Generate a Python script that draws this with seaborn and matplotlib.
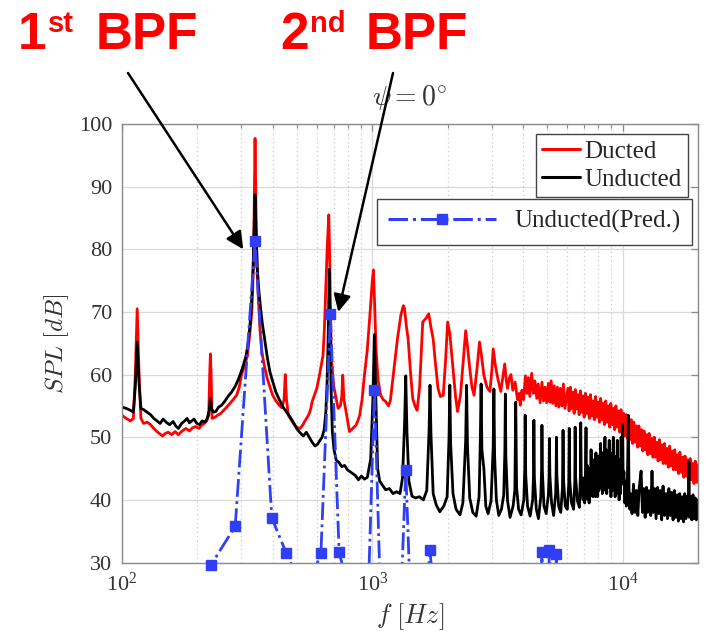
import numpy as np
import pandas as pd
import matplotlib
matplotlib.use("Agg")
import matplotlib.pyplot as plt
import seaborn as sns
from matplotlib.lines import Line2D
from matplotlib.ticker import LogLocator, NullFormatter

# ---------------- data ----------------
ducted_f = [
    100, 104, 108, 111, 113, 115, 117, 119, 122, 126,
    130, 134, 138, 142, 145, 149, 153, 158, 163, 168,
    174, 180, 186, 191, 197, 203, 208, 213, 218, 222,
    224, 225.5, 227, 229, 235, 241, 248, 255, 262, 270,
    278, 287, 294, 300, 308, 317, 324, 330, 334, 337,
    340, 343, 346, 350, 356, 362, 370, 380, 390, 400,
    412, 425, 435, 444, 449, 454, 462, 475, 490, 503,
    515, 528, 540, 550, 560, 568, 575, 588, 600, 608,
    615, 625, 635, 643, 650, 660, 670, 676, 685, 700,
    715, 730, 745, 755, 762, 770, 790, 810, 835, 860,
    875, 890, 910, 930, 955, 980, 1000, 1010, 1020, 1035,
    1055, 1080, 1105, 1130, 1160, 1180, 1200, 1230, 1260, 1300,
    1330, 1345, 1370, 1390, 1420, 1450, 1480, 1510, 1545, 1590,
    1640, 1680, 1715, 1750, 1790, 1830, 1870, 1920, 1960, 2000,
    2040, 2100, 2150, 2190, 2250, 2310, 2360, 2400, 2450, 2500,
    2550, 2620, 2680, 2730, 2790, 2870, 2950, 3000, 3040, 3100,
    3170, 3260, 3320, 3380, 3430, 3470, 3530, 3580, 3640, 3720,
    3800, 3860, 3900, 3960, 4020, 4090, 4150, 4200, 4260, 4330,
    4400, 4460, 4540, 4600, 4680, 4760, 4830, 4900, 4970, 5050,
    5120, 5180, 5260, 5330, 5410, 5490, 5560, 5640, 5720, 5800,
    5880,
    6040, 6110, 6180, 6250, 6320, 6400, 6470, 6550, 6620, 6700,
    6780, 6860, 6940, 7020, 7100, 7190, 7270, 7360, 7440, 7530,
    7620, 7710, 7800, 7890, 7980, 8080, 8170, 8270, 8360, 8460,
    8560, 8660, 8760, 8870, 8970, 9080, 9180, 9290, 9400, 9510,
    9620, 9740, 9850, 9970, 10090, 10200, 10330, 10450, 10570, 10700,
    10820, 10950, 11080, 11210, 11340, 11480, 11610, 11750, 11890, 12030,
    12170, 12320, 12460, 12610, 12760, 12910, 13060, 13220, 13370, 13530,
    13690, 13860, 14020, 14190, 14350, 14520, 14700, 14870, 15050, 15230,
    15410, 15590, 15770, 15960, 16150, 16340, 16540, 16730, 16930, 17130,
    17340, 17540, 17750, 17960, 18170, 18390, 18610, 18830, 19050, 19270,
    19500, 19730, 19960]
ducted_spl = [
    53.5, 53.0, 52.6, 53.0, 60.0, 70.5, 60.0, 53.0, 52.2, 52.4,
    52.0, 51.4, 50.9, 50.5, 50.2, 50.6, 50.8, 50.4, 50.9, 50.4,
    51.0, 51.4, 51.0, 51.5, 51.7, 51.4, 51.9, 52.2, 52.6, 53.5,
    60.0, 63.3, 60.0, 53.0, 53.2, 53.5, 53.8, 54.3, 54.8, 55.4,
    56.0, 56.7, 58.0, 59.9, 61.3, 63.0, 66.5, 70.0, 76.0, 85.0,
    97.7, 86.0, 78.0, 72.6, 67.0, 63.6, 61.5, 59.4, 58.0, 56.7,
    55.8, 55.1, 54.7, 56.0, 60.0, 56.0, 53.5, 52.7, 51.9, 51.5,
    51.4, 52.0, 52.7, 53.2, 53.8, 54.6, 55.7, 56.8, 57.8, 58.9,
    59.9, 61.5, 63.0, 67.0, 72.6, 80.0, 85.5, 78.0, 63.0, 58.3,
    56.4, 54.6, 55.0, 56.5, 59.9, 56.0, 53.5, 50.9, 51.4, 51.9,
    52.6, 53.5, 56.0, 59.9, 64.0, 70.0, 75.0, 76.7, 72.0, 64.1,
    59.0, 56.7, 56.0, 55.7, 55.0, 55.8, 58.3, 62.0, 65.7, 69.5,
    71.0, 70.5, 67.5, 65.7, 60.5, 56.2, 55.0, 54.3, 58.0, 68.4,
    69.0, 69.7, 67.5, 65.7, 61.5, 57.8, 56.5, 56.7, 62.0, 68.4,
    66.5, 61.0, 56.5, 54.1, 56.7, 62.5, 67.0, 64.5, 61.0, 58.0,
    56.7, 61.0, 65.2, 63.0, 59.9, 58.0, 57.3, 60.5, 64.1, 61.5,
    59.4, 57.3, 59.5, 61.7, 59.0, 57.8, 59.5, 60.0, 57.5, 58.8,
    56.0, 57.0, 55.1, 57.5, 56.0, 59.8, 57.0, 59.5, 56.5, 60.2,
    57.0, 59.0, 56.2, 58.5, 55.5, 58.8, 55.8, 58.0, 55.5, 58.6,
    55.6, 59.0, 55.4, 58.2, 55.0, 58.0, 54.8, 57.8, 55.0, 58.5,
    54.6,
    57.8, 54.2, 58.0, 54.6, 57.2, 53.8, 57.6, 54.5, 56.8, 53.6,
    57.4, 54.0, 56.6, 53.2, 57.0, 53.8, 56.4, 53.0, 56.8, 53.4,
    55.8, 52.8, 56.5, 53.2, 55.6, 52.4, 56.2, 52.8, 55.4, 52.0,
    55.8, 52.4, 55.0, 51.6, 55.4, 52.0, 54.6, 51.2, 55.0, 51.6,
    54.2, 50.8, 54.4, 50.6, 53.8, 50.2, 53.6, 49.8, 53.0, 49.6,
    52.8, 49.0, 52.4, 49.2, 51.8, 48.4, 51.8, 48.6, 51.2, 47.8,
    51.0, 48.0, 50.4, 47.2, 50.6, 47.4, 49.8, 46.8, 50.0, 46.8,
    49.2, 46.2, 49.6, 46.4, 48.8, 45.8, 49.0, 45.8, 48.2, 45.2,
    48.6, 45.4, 47.8, 44.8, 48.0, 44.8, 47.2, 44.2, 47.6, 44.4,
    46.8, 43.6, 47.0, 43.8, 46.4, 43.2, 46.6, 43.2, 45.8, 42.6,
    46.2, 42.8, 45.6]

unducted_f = [
    100, 104, 108, 111, 113, 115, 117, 119, 122, 126,
    130, 134, 138, 142, 146, 150, 155, 160, 164, 168,
    173, 178, 182, 186, 190, 194, 199, 204, 209, 214,
    219, 223, 225.5, 228, 232, 237, 243, 250, 257, 265,
    274, 284, 292, 299, 306, 313, 319, 324, 329, 334,
    337, 340, 343, 347, 352, 358, 364, 371, 380, 390,
    400, 411, 425, 440, 455, 470, 485, 500, 515, 530,
    545, 560, 575, 590, 605, 618, 630, 642, 652, 660,
    667, 673, 678, 684, 692, 703, 718, 735, 755, 775,
    795, 815, 835, 855, 880, 905, 930, 955, 985, 1005,
    1020, 1035, 1050, 1070, 1100, 1130, 1170, 1210, 1250, 1290,
    1320, 1345, 1360, 1375, 1400, 1440, 1490, 1540, 1600, 1650,
    1685, 1700, 1715, 1750, 1800, 1860, 1930, 1990, 2025, 2040,
    2055, 2100, 2160, 2240, 2300, 2360, 2380, 2400, 2450, 2520,
    2600, 2670, 2700, 2720, 2740, 2790, 2840, 2900, 2980, 3040,
    3060, 3080, 3130, 3200, 3280, 3350, 3385, 3400, 3415, 3470,
    3550, 3650, 3710, 3740, 3770, 3840, 3930, 4030, 4065, 4080,
    4100, 4170, 4270, 4370, 4405, 4420, 4440, 4520, 4610, 4710,
    4745, 4760, 4780, 4850, 4950, 5050, 5085, 5100, 5120, 5200,
    5300, 5400, 5425, 5440, 5460, 5550, 5660, 5750, 5780, 5810,
    5900, 6010, 6090, 6120, 6150, 6250, 6370, 6440, 6460, 6490,
    6600, 6720, 6780, 6800, 6830, 6950, 7000, 7050, 7100, 7140,
    7170, 7220, 7260, 7300, 7350, 7400, 7440, 7480, 7510, 7560,
    7600, 7650, 7700, 7740, 7780, 7820, 7850, 7900, 7950, 8000,
    8040, 8080, 8120, 8160, 8200, 8250, 8300, 8350, 8400, 8450,
    8500, 8540, 8590, 8640, 8700, 8760, 8800, 8840, 8880, 8930,
    8980, 9040, 9100, 9140, 9180, 9220, 9280, 9330, 9390, 9450,
    9490, 9520, 9560, 9620, 9680, 9740, 9800, 9840, 9860, 9900,
    9950, 10000, 10050, 10120, 10200, 10280, 10350, 10450, 10540, 10600,
    10680, 10750, 10900, 11050, 11200, 11350, 11500, 11650, 11850, 12000,
    12150, 12300, 12450, 12600, 12780, 12950, 13100, 13250, 13420, 13600,
    13780, 13950, 14130, 14320, 14500, 14700, 14900, 15100, 15300, 15500,
    15700, 15900, 16100, 16300, 16500, 16700, 16900, 17100, 17300, 17500,
    17700, 17900, 18100, 18300, 18400, 18500, 18700, 18900, 19100, 19300,
    19500, 19700, 19900, 20000]
unducted_spl = [
    54.8, 54.6, 54.3, 54.0, 58.0, 65.2, 58.5, 54.6, 54.4, 54.0,
    53.6, 53.0, 52.6, 52.2, 52.9, 52.4, 52.0, 52.5, 51.8, 51.4,
    52.2, 52.6, 53.0, 52.3, 52.6, 52.9, 52.2, 52.0, 52.6, 52.4,
    53.0, 54.2, 56.2, 54.5, 54.0, 54.1, 54.8, 55.1, 55.7, 56.5,
    57.2, 58.2, 59.3, 60.4, 61.6, 63.0, 65.0, 67.5, 71.0, 77.0,
    83.0, 88.7, 83.0, 77.0, 73.5, 70.5, 68.0, 65.8, 62.9, 60.4,
    58.9, 57.3, 56.0, 54.8, 54.0, 53.2, 52.3, 51.3, 50.7, 50.2,
    50.8, 50.0, 49.2, 48.6, 48.9, 49.5, 50.0, 51.2, 54.0, 59.0,
    67.0, 76.8, 68.0, 58.0, 51.0, 48.0, 46.3, 46.0, 45.3, 45.5,
    44.8, 44.5, 44.2, 43.9, 43.2, 43.8, 43.3, 43.6, 46.5, 56.0,
    66.4, 55.0, 45.0, 43.0, 42.3, 41.6, 41.8, 41.0, 41.3, 41.0,
    43.5, 52.0, 59.8, 51.0, 43.0, 40.6, 40.3, 40.5, 40.0, 41.5,
    51.0, 58.3, 50.5, 41.0, 39.2, 38.1, 39.0, 40.5, 50.0, 58.3,
    49.0, 41.0, 38.5, 37.6, 39.5, 49.5, 58.3, 48.5, 40.3, 38.0,
    37.4, 40.5, 49.5, 58.5, 48.0, 45.0, 39.0, 37.8, 39.8, 48.5,
    57.7, 47.0, 40.0, 37.5, 38.5, 40.8, 48.0, 56.9, 47.0, 39.8,
    37.2, 39.0, 41.5, 55.6, 42.0, 38.5, 37.6, 40.0, 45.0, 53.5,
    44.0, 39.0, 37.4, 40.0, 44.0, 52.7, 43.5, 38.5, 37.0, 40.5,
    45.0, 51.9, 44.5, 39.0, 37.8, 40.8, 44.0, 49.8, 44.0, 39.5,
    37.5, 41.0, 44.5, 50.0, 44.0, 39.0, 38.0, 42.0, 51.1, 43.0,
    39.0, 38.5, 42.5, 51.4, 43.0, 39.5, 38.5, 43.0, 51.6, 43.5,
    39.8, 38.8, 44.0, 52.3, 44.0, 40.0, 43.5, 39.5, 44.0, 51.5,
    43.0, 45.5, 40.0, 44.5, 39.5, 45.0, 41.0, 48.0, 43.0, 46.0,
    40.5, 45.5, 41.0, 46.5, 40.5, 47.5, 43.5, 46.5, 40.5, 47.0,
    41.5, 46.5, 42.0, 49.0, 44.5, 47.5, 41.0, 47.5, 41.5, 47.0,
    50.0, 45.0, 48.0, 41.0, 47.5, 42.0, 47.0, 49.5, 44.5, 47.5,
    40.5, 47.0, 41.5, 47.0, 50.0, 44.5, 47.0, 40.5, 46.5, 41.0,
    46.0, 49.5, 44.0, 46.5, 40.0, 45.5, 41.0, 46.0, 50.0, 43.5,
    45.0, 52.0, 42.5, 44.5, 39.5, 43.0, 39.0, 43.5, 53.5, 42.0,
    38.5, 41.0, 37.8, 42.5, 38.0, 41.5, 37.5, 42.0, 44.6, 38.0,
    41.8, 37.2, 42.0, 38.0, 41.5, 37.5, 44.6, 38.0, 41.8, 37.0,
    42.0, 37.8, 41.5, 36.8, 42.2, 37.5, 41.0, 37.0, 41.8, 37.5,
    41.2, 36.8, 41.5, 37.2, 40.8, 36.6, 41.0, 37.0, 40.5, 36.5,
    41.0, 37.0, 40.6, 37.5, 46.1, 37.2, 40.5, 36.8, 40.8, 37.0,
    40.3, 36.8, 40.0, 38.5]

pred_f = [170, 226.7, 283.3, 340, 396.7, 453.3, 510, 566.7, 623.3, 680,
          736.7, 793.3, 963.3, 1020, 1076.7, 1303.3, 1360, 1416.7, 1643.3, 1700,
          1756.7, 4703.3, 4760, 4816.7, 5043.3, 5100, 5156.7, 5383.3, 5440, 5496.7]
pred_spl = [25, 29.6, 35.8, 81.3, 37.1, 31.5, 27, 27, 31.5, 69.6,
            31.7, 26.5, 25, 57.5, 25, 25, 44.8, 25, 25, 32.0,
            25, 25, 31.6, 25, 25, 32.0, 25, 25, 31.3, 25]

y_ticks = [30, 40, 50, 60, 70, 80, 90, 100]
series_names = ["Ducted", "Unducted", "Unducted(Pred.)"]

RED, BLACK, BLUE = "#ff0000", "#000000", "#2f3ff5"

# ---------------- style ----------------
sns.set_style("white")
plt.rcParams["font.family"] = ["Liberation Serif", "DejaVu Serif"]
plt.rcParams["mathtext.fontset"] = "stix"

W, H = 706, 641
fig = plt.figure(figsize=(W / 100, H / 100), dpi=100)
AX_L, AX_R, AX_T, AX_B = 122, 698, 124, 562.5
ax = fig.add_axes([AX_L / W, 1 - AX_B / H, (AX_R - AX_L) / W, (AX_B - AX_T) / H])

df_d = pd.DataFrame({"f": ducted_f, "SPL": ducted_spl})
df_u = pd.DataFrame({"f": unducted_f, "SPL": unducted_spl})
df_p = pd.DataFrame({"f": pred_f, "SPL": pred_spl})

sns.lineplot(data=df_d, x="f", y="SPL", ax=ax, color=RED, lw=2.0, sort=False, estimator=None, legend=False)
sns.lineplot(data=df_u, x="f", y="SPL", ax=ax, color=BLACK, lw=2.0, sort=False, estimator=None, legend=False)
sns.lineplot(data=df_p, x="f", y="SPL", ax=ax, color=BLUE, lw=2.0, ls="-.", sort=False, estimator=None,
             legend=False)
vis = df_p[df_p["SPL"] >= 29]
ax.plot(vis["f"], vis["SPL"], ls="none", marker="s", ms=7.5, color=BLUE, clip_on=False, zorder=5)

ax.set_xscale("log")
ax.set_xlim(100, 20000)
ax.set_ylim(30, 100)
ax.set_yticks(y_ticks)
ax.xaxis.set_major_locator(LogLocator(base=10, numticks=10))
ax.xaxis.set_minor_locator(LogLocator(base=10, subs=np.arange(2, 10), numticks=50))
ax.xaxis.set_minor_formatter(NullFormatter())

ax.grid(True, which="major", axis="both", color="#dadada", lw=0.9, ls="-")
ax.grid(True, which="minor", axis="x", color="#c8c8c8", lw=0.9, ls=(0, (1, 2.5)))
ax.set_axisbelow(True)
ax.tick_params(which="both", direction="in", top=True, right=True, colors="#8a8a8a",
               labelcolor="#333333", labelsize=16, pad=7)
ax.tick_params(which="major", length=5, width=0.9)
ax.tick_params(which="minor", length=3, width=0.8)
for s in ax.spines.values():
    s.set_color("#8a8a8a")
    s.set_linewidth(1.0)

ax.set_xlabel(r"$f\ [Hz]$", fontsize=19, math_fontfamily="cm", color="#333333")
ax.set_ylabel(r"$SPL\ [dB]$", fontsize=18, math_fontfamily="cm", color="#333333")
ax.xaxis.set_label_coords(0.5, -(601 - AX_B) / (AX_B - AX_T))
ax.yaxis.set_label_coords((71 - AX_L) / (AX_R - AX_L), 0.5)
ax.text(0.5, 1 + (AX_T - 97) / (AX_B - AX_T), r"$\psi = 0^{\circ}$", transform=ax.transAxes,
        ha="center", va="center", fontsize=20, math_fontfamily="cm", color="#333333")

# legends
h1 = [Line2D([], [], color=RED, lw=2.2), Line2D([], [], color=BLACK, lw=2.2)]
leg1 = ax.legend(h1, series_names[:2], loc="upper right", bbox_to_anchor=(0.983, 0.977), borderaxespad=0,
                 fancybox=False, edgecolor="#444444", framealpha=1, fontsize=18, handlelength=1.5,
                 handletextpad=0.2, labelspacing=0.22, borderpad=0.25)
leg1.get_frame().set_linewidth(1.0)
ax.add_artist(leg1)
h2 = [Line2D([], [], color=BLUE, lw=2.2, ls="-.", marker="s", ms=7.5)]
leg2 = ax.legend(h2, series_names[2:], loc="upper right", bbox_to_anchor=(0.990, 0.829), borderaxespad=0,
                 fancybox=False, edgecolor="#444444", framealpha=1, fontsize=18, handlelength=4.3,
                 handletextpad=0.75, borderpad=0.45)
leg2.get_frame().set_linewidth(1.0)

# BPF annotations
def ftxt(x, y, s, size):
    fig.text(x / W, 1 - y / H, s, fontsize=size, color="#ff0000", fontweight="bold",
             family=["Liberation Sans", "DejaVu Sans"], ha="left", va="baseline")

ftxt(18, 49, "1", 37)
ftxt(48, 32, "st", 21)
ftxt(96, 49, "BPF", 37)
ftxt(280, 49, "2", 37)
ftxt(310, 32, "nd", 21)
ftxt(366, 49, "BPF", 37)

arrow = dict(arrowstyle="-|>", color="black", lw=1.8, mutation_scale=26, shrinkA=0, shrinkB=0)
ax.annotate("", xy=(305, 80), xycoords="data", xytext=(128 / W, 1 - 73 / H), textcoords="figure fraction",
            arrowprops=arrow, annotation_clip=False)
ax.annotate("", xy=(731, 70), xycoords="data", xytext=(393 / W, 1 - 73 / H), textcoords="figure fraction",
            arrowprops=arrow, annotation_clip=False)

fig.savefig("out.png", dpi=100)
